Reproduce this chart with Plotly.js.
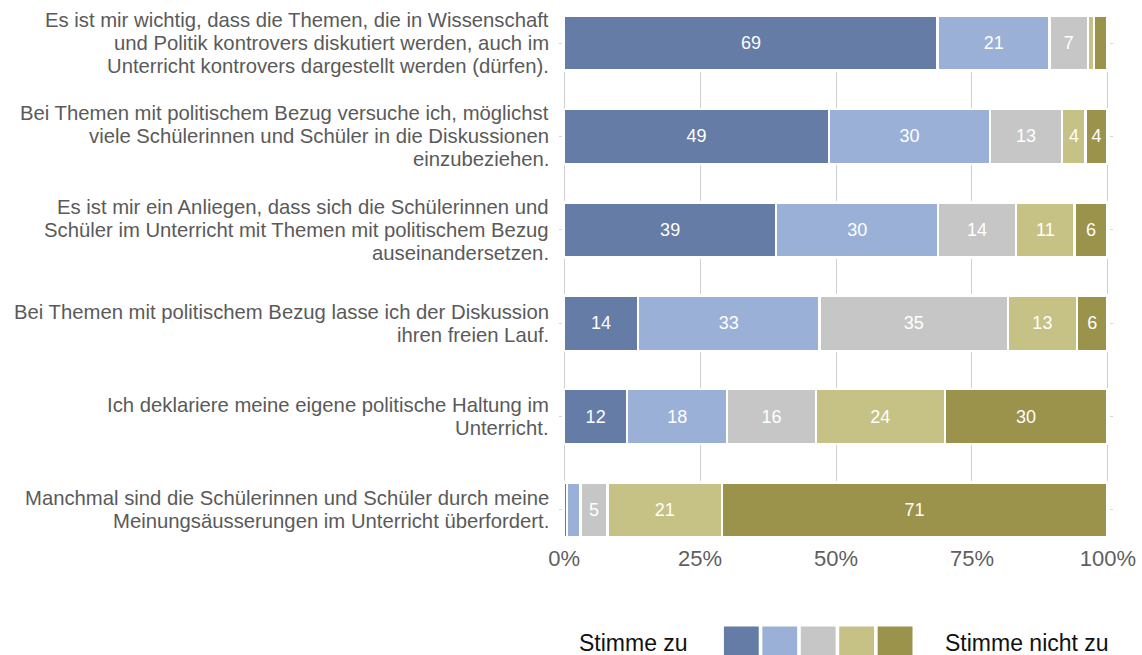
<!DOCTYPE html>
<html>
<head>
<meta charset="utf-8">
<script src="https://cdn.plot.ly/plotly-3.0.1.min.js"></script>
<style>html,body{margin:0;padding:0;background:#fff;}#chart{width:1142px;height:655px;}</style>
</head>
<body>
<div id="chart"></div>
<script>
// Categories (top to bottom)
const categories = [
  "Es ist mir wichtig, dass die Themen, die in Wissenschaft<br>und Politik kontrovers diskutiert werden, auch im<br>Unterricht kontrovers dargestellt werden (dürfen).",
  "Bei Themen mit politischem Bezug versuche ich, möglichst<br>viele Schülerinnen und Schüler in die Diskussionen<br>einzubeziehen.",
  "Es ist mir ein Anliegen, dass sich die Schülerinnen und<br>Schüler im Unterricht mit Themen mit politischem Bezug<br>auseinandersetzen.",
  "Bei Themen mit politischem Bezug lasse ich der Diskussion<br>ihren freien Lauf.",
  "Ich deklariere meine eigene politische Haltung im<br>Unterricht.",
  "Manchmal sind die Schülerinnen und Schüler durch meine<br>Meinungsäusserungen im Unterricht überfordert."
];

// Series values (percent), from "Stimme zu" to "Stimme nicht zu"
const level1 = [68.7, 48.7, 39.0, 13.6, 11.6, 0.5];
const level2 = [20.6, 29.6, 29.8, 33.4, 18.4, 2.5];
const level3 = [7.0, 13.3, 14.3, 34.6, 16.3, 5.0];
const level4 = [1.1, 4.3, 10.8, 12.7, 23.7, 21.0];
const level5 = [2.5, 4.0, 6.0, 5.6, 29.9, 70.9];

const seriesValues = [level1, level2, level3, level4, level5];
const seriesColors = ["#647ca6", "#9ab0d6", "#c6c6c6", "#c6c286", "#9b924c"];

const tickVals = [0, 25, 50, 75, 100];
const tickText = ["0%", "25%", "50%", "75%", "100%"];

const legendLeft = "Stimme zu";
const legendRight = "Stimme nicht zu";

const FONT = "Liberation Sans, Arial, Helvetica, sans-serif";

const traces = seriesValues.map((vals, i) => ({
  type: "bar",
  orientation: "h",
  x: vals,
  y: categories,
  name: "L" + (i + 1),
  marker: { color: seriesColors[i], line: { color: "#ffffff", width: 2.5 } },
  text: vals.map(v => (Math.round(v) >= 4 ? String(Math.round(v)) : "")),
  textposition: "inside",
  insidetextanchor: "middle",
  textangle: 0,
  constraintext: "none",
  textfont: { family: FONT, size: 18, color: "#ffffff" },
  hoverinfo: "skip",
  cliponaxis: false
}));

// Category labels drawn line by line (tighter line spacing, as in the reference)
const LINE_H = 23;
const annotations = [];
categories.forEach(cat => {
  const lines = cat.split("<br>");
  const mid = (lines.length - 1) / 2;
  lines.forEach((ln, j) => {
    annotations.push({
      xref: "paper", yref: "y", x: 0, y: cat,
      xanchor: "right", yanchor: "middle",
      xshift: -12, yshift: (mid - j) * LINE_H,
      text: ln, showarrow: false, align: "right",
      font: { family: FONT, size: 20.3, color: "#5a5a5a" }
    });
  });
});
annotations.push(
  { xref: "paper", yref: "paper", x: 0.0257, y: -0.2, xanchor: "left", yanchor: "middle",
    text: legendLeft, showarrow: false, font: { family: FONT, size: 23, color: "#111111" } },
  { xref: "paper", yref: "paper", x: 0.6967, y: -0.2, xanchor: "left", yanchor: "middle",
    text: legendRight, showarrow: false, font: { family: FONT, size: 23, color: "#111111" } }
);

const shapes = [];
const sqX0 = 0.2947, sqStep = 0.0704, sqW = 0.0638;
seriesColors.forEach((c, i) => {
  shapes.push({
    type: "rect", xref: "paper", yref: "paper",
    x0: sqX0 + i * sqStep, x1: sqX0 + i * sqStep + sqW,
    y0: -0.234, y1: -0.169,
    fillcolor: c, line: { width: 0 }, layer: "above"
  });
});

const layout = {
  width: 1142, height: 655,
  margin: { l: 563, r: 33, t: 15, b: 117 },
  paper_bgcolor: "#ffffff",
  plot_bgcolor: "#ffffff",
  barmode: "stack",
  bargap: 0.41,
  showlegend: false,
  font: { family: FONT },
  xaxis: {
    range: [-0.2, 100.2],
    tickvals: tickVals,
    ticktext: tickText,
    showgrid: true,
    gridcolor: "#cfcfcf",
    gridwidth: 1,
    zeroline: false,
    showline: false,
    ticks: "",
    ticklabelstandoff: 5,
    tickfont: { family: FONT, size: 22, color: "#5f5f5f" },
    fixedrange: true
  },
  yaxis: {
    type: "category",
    categoryorder: "array",
    categoryarray: categories,
    range: [5.3, -0.3],
    showgrid: false,
    zeroline: false,
    showline: false,
    ticks: "outside",
    ticklen: 3,
    tickcolor: "#d6d6d6",
    mirror: "ticks",
    showticklabels: false,
    fixedrange: true
  },
  shapes: shapes,
  annotations: annotations
};

Plotly.newPlot("chart", traces, layout, { displayModeBar: false, staticPlot: true });
</script>
</body>
</html>
